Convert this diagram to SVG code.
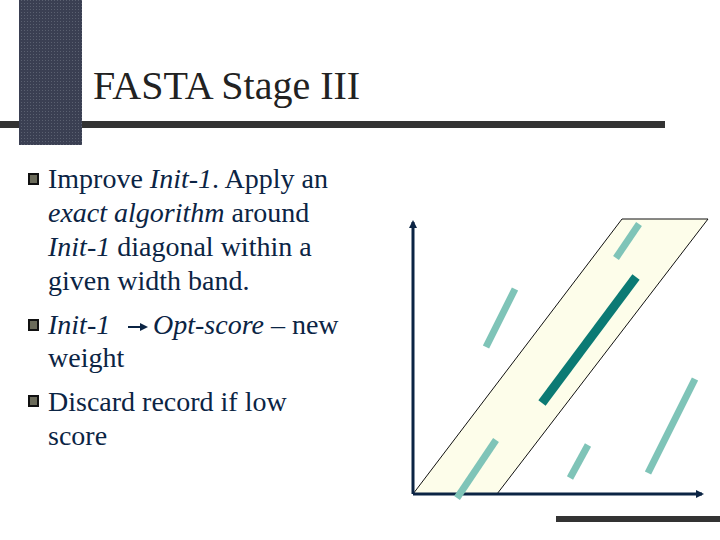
<svg xmlns="http://www.w3.org/2000/svg" width="720" height="540" viewBox="0 0 720 540">
<style>
.b{fill:#6b6b5a;stroke:#111;stroke-width:2}
.lt{stroke:#7fc4b8;stroke-width:7;stroke-linecap:butt}
.ax{stroke:#0b2444;stroke-width:3}
</style>
<defs><marker id="ah" markerWidth="8" markerHeight="8" refX="6" refY="4" orient="auto" markerUnits="userSpaceOnUse"><path d="M0,0L8,4L0,8Z" fill="#0b2444"/></marker>
<pattern id="p" width="3" height="3" patternUnits="userSpaceOnUse"><rect width="3" height="3" fill="#3a3f52"/><rect width="1" height="1" fill="#5a6070"/></pattern></defs>
<rect x="0" y="121" width="665" height="7" fill="#333"/>
<rect x="19" y="0" width="63" height="145" fill="url(#p)"/>
<text x="93" y="99" font-family="Liberation Serif,serif" font-size="40" fill="#222">FASTA Stage III</text>
<g id="bullets">
<g class="b"><rect x="29" y="174" width="9" height="10"/><rect x="29" y="320" width="9" height="10"/><rect x="29" y="396" width="9" height="10"/></g>
<text font-family="Liberation Serif,serif" font-size="28" fill="#0b2444" x="48" y="188">Improve <tspan font-style="italic">Init-1</tspan>. Apply an</text>
<text font-family="Liberation Serif,serif" font-size="28" fill="#0b2444" x="48" y="222"><tspan font-style="italic">exact algorithm</tspan> around</text>
<text font-family="Liberation Serif,serif" font-size="28" fill="#0b2444" x="48" y="256"><tspan font-style="italic">Init-1</tspan> diagonal within a</text>
<text font-family="Liberation Serif,serif" font-size="28" fill="#0b2444" x="48" y="290">given width band.</text>
<text font-family="Liberation Serif,serif" font-size="28" fill="#0b2444" x="48" y="334" font-style="italic">Init-1</text>
<text font-family="Liberation Serif,serif" font-size="28" fill="#0b2444" x="153" y="334"><tspan font-style="italic">Opt-score</tspan> – new</text>
<text font-family="Liberation Serif,serif" font-size="28" fill="#0b2444" x="48" y="367">weight</text>
<text font-family="Liberation Serif,serif" font-size="28" fill="#0b2444" x="48" y="411">Discard record if low</text>
<text font-family="Liberation Serif,serif" font-size="28" fill="#0b2444" x="48" y="445">score</text>
</g>
<g id="connectors">
<line x1="128" y1="327" x2="146" y2="327" stroke="#0b2444" stroke-width="2" marker-end="url(#ah)"/>
<polygon points="413,494 497,494 708,219 622,219" fill="#fdfdea" stroke="#111" stroke-width="1"/>
<line class="ax" x1="413" y1="494" x2="413" y2="222" marker-end="url(#ah)"/>
<line class="ax" x1="413" y1="494" x2="702" y2="494" marker-end="url(#ah)"/>
<line class="lt" x1="639" y1="224" x2="616" y2="258"/>
<line x1="636" y1="277" x2="542" y2="403" stroke="#0b7a74" stroke-width="9"/>
<line class="lt" x1="515" y1="289" x2="486" y2="347"/>
<line class="lt" x1="496" y1="440" x2="457" y2="498"/>
<line class="lt" x1="588" y1="445" x2="570" y2="478"/>
<line class="lt" x1="695" y1="379" x2="648" y2="473"/>
</g>
<rect x="556" y="516" width="164" height="6" fill="#333"/>
</svg>
